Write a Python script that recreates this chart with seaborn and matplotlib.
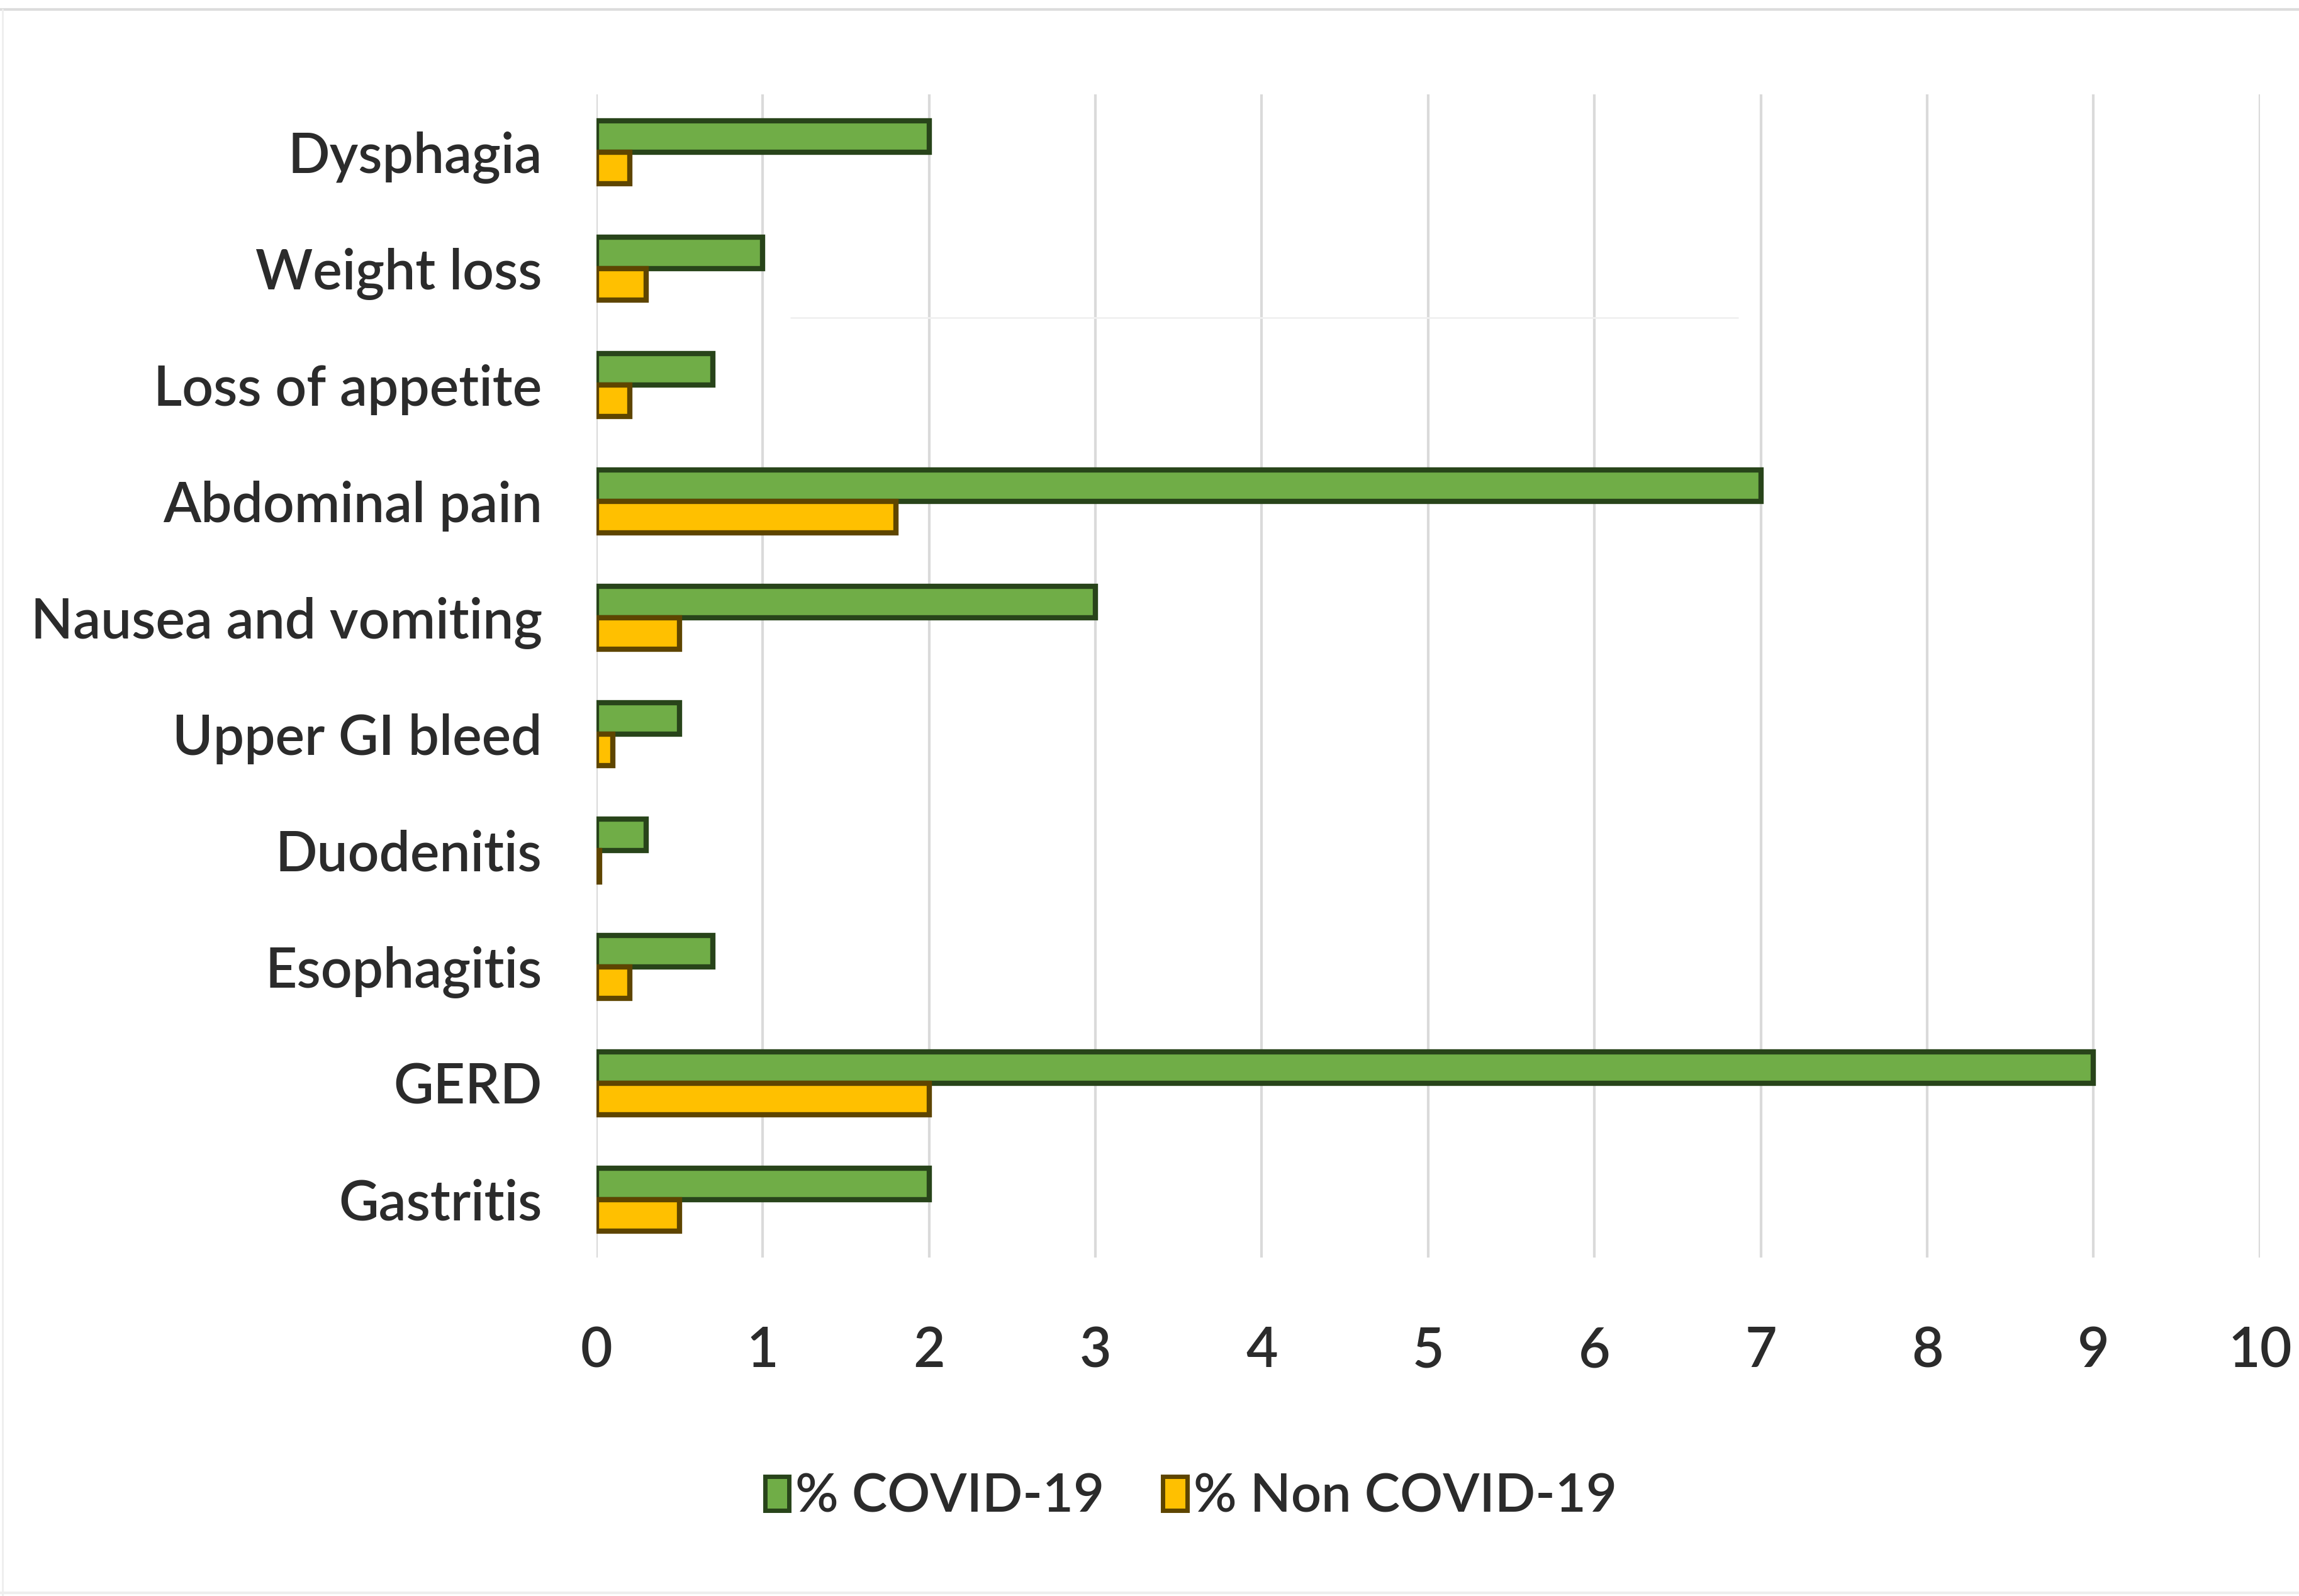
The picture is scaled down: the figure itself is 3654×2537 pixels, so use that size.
import matplotlib
matplotlib.use("Agg")
import matplotlib.pyplot as plt
import matplotlib.patches as mpatches
from matplotlib.lines import Line2D
import seaborn as sns
import pandas as pd

# Symptoms / findings, top to bottom
categories = [
    "Dysphagia", "Weight loss", "Loss of appetite", "Abdominal pain",
    "Nausea and vomiting", "Upper GI bleed", "Duodenitis", "Esophagitis",
    "GERD", "Gastritis",
]
covid_pct = [2.0, 1.0, 0.7, 7.0, 3.0, 0.5, 0.3, 0.7, 9.0, 2.0]
non_covid_pct = [0.2, 0.3, 0.2, 1.8, 0.5, 0.1, 0.02, 0.2, 2.0, 0.5]
series_names = ["% COVID-19", "% Non COVID-19"]
x_ticks = list(range(0, 11))

df = pd.DataFrame({
    "category": categories * 2,
    "value": covid_pct + non_covid_pct,
    "group": [series_names[0]] * len(categories) + [series_names[1]] * len(categories),
})

sns.set_theme(style="white")
plt.rcParams["font.family"] = ["Lato", "DejaVu Sans"]
plt.rcParams["font.weight"] = "semibold"

fill_colors = {series_names[0]: "#70AD47", series_names[1]: "#FFC000"}
edge_colors = ["#28441A", "#5E4500"]
text_color = "#2B2B2B"

fig = plt.figure(figsize=(36.54, 25.37), dpi=100)
fig.patch.set_facecolor("white")
ax = fig.add_axes([0.2594, 0.212, 0.7236, 0.729])

sns.barplot(
    data=df, y="category", x="value", hue="group", order=categories,
    hue_order=series_names, palette=fill_colors, width=0.54,
    orient="h", ax=ax, legend=False, saturation=1,
)

for container, ec in zip(ax.containers, edge_colors):
    for bar in container:
        bar.set_edgecolor(ec)
        bar.set_linewidth(6)

ax.set_xlim(0, 10)
ax.set_ylim(len(categories) - 0.5, -0.5)
ax.set_xticks(x_ticks)
ax.set_xticklabels([str(t) for t in x_ticks])
ax.xaxis.grid(True, color="#DADADA", linewidth=3)
ax.yaxis.grid(False)
ax.set_axisbelow(True)
for s in ax.spines.values():
    s.set_visible(False)
ax.set_xlabel("")
ax.set_ylabel("")
ax.tick_params(axis="x", labelsize=63, colors=text_color, length=0, pad=78)
ax.tick_params(axis="y", labelsize=63, colors=text_color, length=0, pad=62)

handles = [
    mpatches.Patch(facecolor=fill_colors[n], edgecolor=ec, linewidth=5, label=n)
    for n, ec in zip(series_names, edge_colors)
]
leg = fig.legend(
    handles=handles, loc="center", bbox_to_anchor=(0.518, 0.062), ncol=2,
    frameon=False, fontsize=61, handlelength=0.45, handleheight=0.6,
    handletextpad=0.12, columnspacing=1.1,
)
for t in leg.get_texts():
    t.set_color(text_color)

# light page frame
fig.add_artist(Line2D([0, 1], [0.994, 0.994], transform=fig.transFigure,
                      color="#DCDCDC", linewidth=3))
fig.add_artist(Line2D([0.001, 0.001], [0.0, 0.994], transform=fig.transFigure,
                      color="#EEEEEE", linewidth=2))
fig.add_artist(Line2D([0, 1], [0.002, 0.002], transform=fig.transFigure,
                      color="#EEEEEE", linewidth=3))
fig.add_artist(Line2D([0.344, 0.756], [0.801, 0.801], transform=fig.transFigure,
                      color="#F0F0F0", linewidth=2))

fig.savefig("out.png", dpi=100, facecolor="white")
